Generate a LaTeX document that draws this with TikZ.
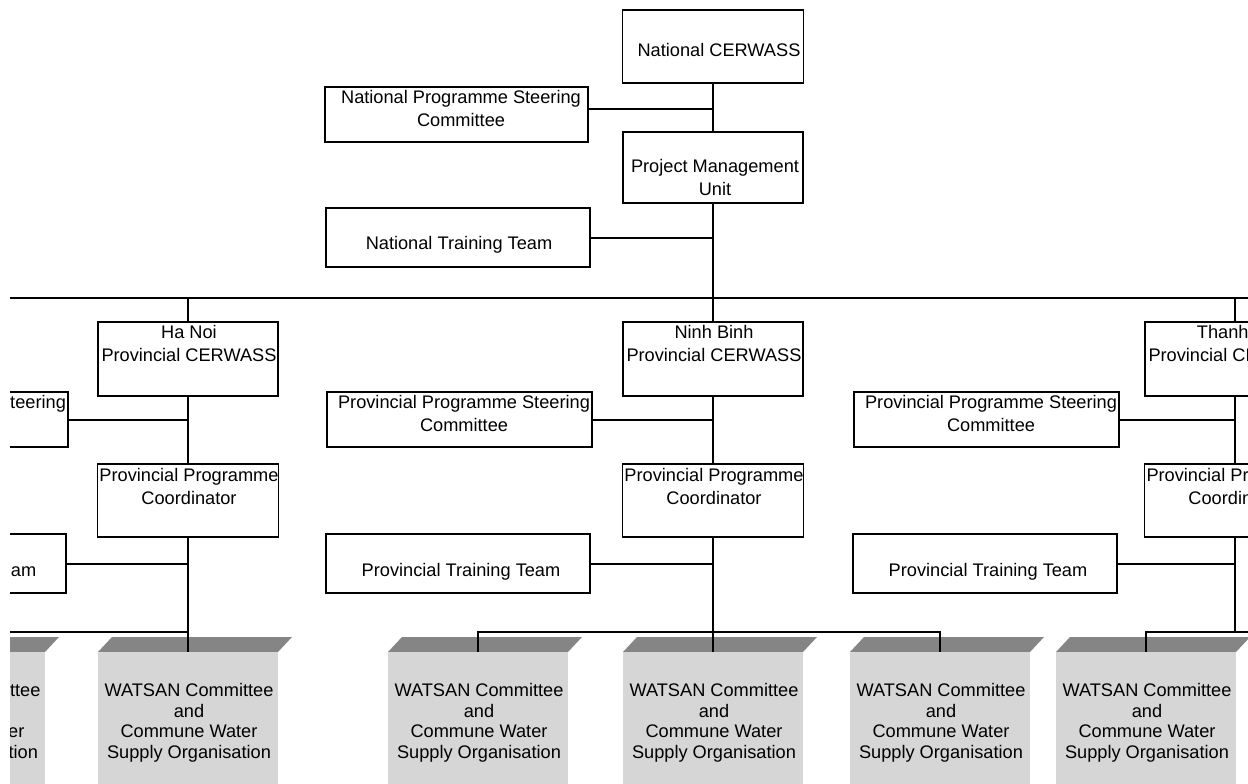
\documentclass[tikz,border=0pt]{standalone}
\usepackage{fontspec}
\setmainfont{Liberation Sans}
\usetikzlibrary{calc}
\tikzset{
  orgbox/.style={draw=black, line width=1.9pt, inner sep=0pt, fill=white},
  lbl/.style={inner sep=0pt, align=center, font=\fontsize{18.2}{23}\selectfont,
              execute at begin node=\strut, execute at end node=\strut},
  wlbl/.style={inner sep=0pt, align=center, font=\fontsize{18.2}{20.7}\selectfont,
              execute at begin node=\strut, execute at end node=\strut},
  conn/.style={draw=black, line width=2pt},
  mainconn/.style={draw=black, line width=2.6pt},
  frontface/.style={fill=black!16, draw=none, inner sep=0pt, minimum width=180pt, minimum height=140pt},
  topface/.style={fill=black!48},
}
\begin{document}
\begin{tikzpicture}[x=1pt,y=-1pt]
\useasboundingbox (0,0) rectangle (1248,784);
\fill[white] (0,0) rectangle (1248,784);
\clip (10,0) rectangle (1248,784);

% ---------- national level ----------
\node[orgbox, minimum width=181pt, minimum height=73pt] (ncw) at (713,46.5) {};
\node[lbl] (ncwt) at (719,52) {National CERWASS};
\node[orgbox, minimum width=263pt, minimum height=55pt] (npsc) at (456.5,114.5) {};
\node[lbl] (npsct) at (461,111.5) {National Programme Steering\\Committee};
\node[orgbox, minimum width=180pt, minimum height=71pt] (pmu) at (713,167.5) {};
\node[lbl] (pmut) at (715,181) {Project Management\\Unit};
\node[orgbox, minimum width=264pt, minimum height=59pt] (ntt) at (458,237.5) {};
\node[lbl] (nttt) at (459,245) {National Training Team};

\coordinate (busL) at (-300,298);
\coordinate (busR) at (1400,298);
\draw[conn] (busL) -- (busR);
\draw[mainconn] (ncw.south) -- (pmu.north);
\draw[mainconn] (pmu.south) -- (pmu.south |- busL);
\draw[conn] ([yshift=6pt]npsc.east) -- ([yshift=6pt]npsc.east -| ncw.south);
\draw[conn] (ntt.east) -- (ntt.east -| pmu.south);

% ---------- WATSAN boxes ----------
\foreach \w/\d in {a/-45, b/188, c/478, d/713, e/940, f/1146} {
  \fill[topface] (\d-90,652) -- (\d+90,652) -- (\d+104,637) -- (\d-76,637) -- cycle;
  \node[frontface, anchor=north] (ws\w) at (\d,652) {};
  \node[wlbl] (ws\w t) at (\d+1,724) {WATSAN Committee\\and\\Commune Water\\Supply Organisation};
}

% ---------- provincial level ----------
\foreach \p/\dx/\ex/\nm/\tx in {H/-525/-524/Ha Noi/0, N/0/0/Ninh Binh/0, T/522/527/Thanh Hoa/12} {
  \node[orgbox, minimum width=180pt, minimum height=74pt] (cer\p) at (713+\dx,359) {};
  \node[lbl] (cer\p t) at (714+\dx,347) {\hspace*{\tx pt}\nm\\Provincial CERWASS};
  \node[orgbox, minimum width=265pt, minimum height=55pt] (ppsc\p) at (459.5+\ex,419.5) {};
  \node[lbl] (ppsc\p t) at (464+\ex,416.5) {Provincial Programme Steering\\Committee};
  \node[orgbox, minimum width=181pt, minimum height=73pt] (ppc\p) at (713+\dx,500.5) {};
  \node[lbl] (ppc\p t) at (714+\dx,489.5) {Provincial Programme\\Coordinator};
  \node[orgbox, minimum width=264pt, minimum height=59pt] (ptt\p) at (458+\ex,563.5) {};
  \node[lbl] (ptt\p t) at (461+\ex,571.5) {Provincial Training Team};
  \draw[conn] (cer\p.north) -- (cer\p.north |- busL);
  \draw[conn] (cer\p.south) -- (ppc\p.north);
  \draw[conn] (ppsc\p.east) -- (ppsc\p.east -| cer\p.south);
  \draw[conn] (ptt\p.east) -- (ptt\p.east -| ppc\p.south);
}

% ---------- commune buses ----------
\coordinate (wbusH) at (-300,632);
\coordinate (wbusN) at (0,632);
\coordinate (wbusT) at (1400,632);
\draw[conn] (ppcH.south) -- (wsb.north);
\draw[conn] (wsb.north |- wbusH) -- (wbusH);
\draw[conn] (wsa.north |- wbusH) -- (wsa.north);
\draw[conn] (ppcN.south) -- (wsd.north);
\draw[conn] (wsc.north) -- (wsc.north |- wbusN) -- (wse.north |- wbusN) -- (wse.north);
\draw[conn] (ppcT.south) -- (ppcT.south |- wbusT);
\draw[conn] (wsf.north) -- (wsf.north |- wbusT) -- (wbusT);
\end{tikzpicture}
\end{document}
